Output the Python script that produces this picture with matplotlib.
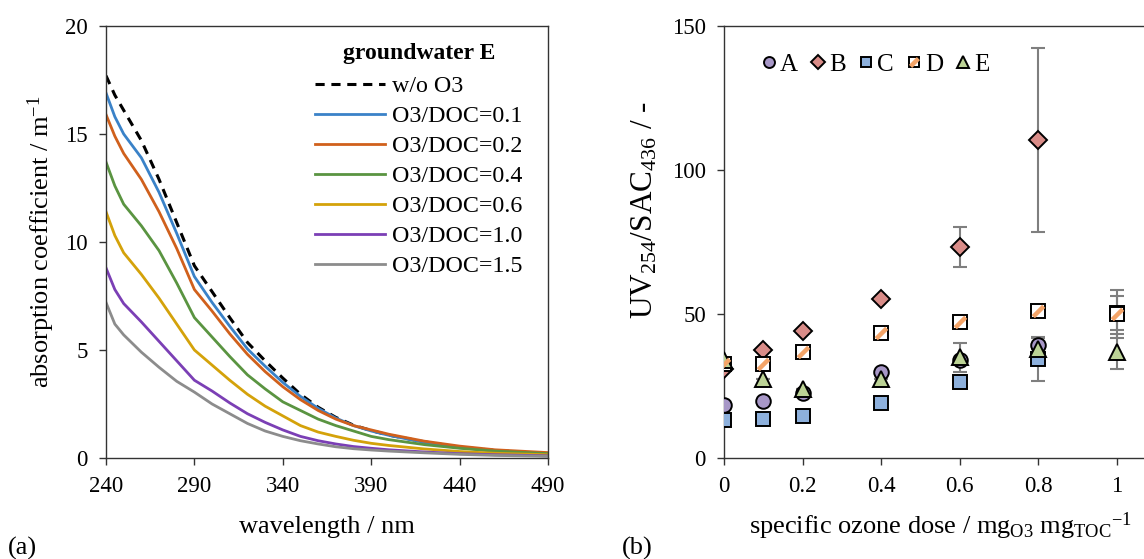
import numpy as np
import matplotlib
matplotlib.use("Agg")
import matplotlib.pyplot as plt
from matplotlib.path import Path
from matplotlib.markers import MarkerStyle
from matplotlib.legend_handler import HandlerTuple

plt.rcParams['font.family'] = ['Liberation Serif', 'DejaVu Serif']
plt.rcParams['mathtext.fontset'] = 'custom'
plt.rcParams['mathtext.rm'] = 'Liberation Serif'
plt.rcParams['mathtext.it'] = 'Liberation Serif:italic'
plt.rcParams['mathtext.bf'] = 'Liberation Serif:bold'

# ---------------- panel (a) data ----------------
wavelength = [240, 245, 250, 260, 270, 280, 290, 300, 310, 320, 330, 340, 350,
              360, 370, 380, 390, 400, 420, 440, 460, 490]
wo_o3 = [17.7, 16.8, 16.1, 14.7, 12.9, 10.9, 8.9, 7.7, 6.5, 5.35, 4.5, 3.7, 2.95,
         2.35, 1.88, 1.52, 1.27, 1.06, 0.75, 0.5, 0.35, 0.2]
doc_01 = [16.9, 15.8, 15.0, 13.9, 12.3, 10.4, 8.4, 7.2, 6.1, 5.05, 4.25, 3.5, 2.85,
          2.3, 1.85, 1.5, 1.25, 1.05, 0.72, 0.48, 0.33, 0.2]
doc_02 = [15.9, 14.9, 14.1, 12.9, 11.4, 9.7, 7.8, 6.8, 5.75, 4.8, 4.0, 3.3, 2.7,
          2.2, 1.8, 1.5, 1.3, 1.1, 0.78, 0.55, 0.38, 0.25]
doc_04 = [13.7, 12.6, 11.75, 10.75, 9.6, 8.1, 6.5, 5.6, 4.7, 3.85, 3.2, 2.6, 2.2,
          1.8, 1.5, 1.25, 1.0, 0.85, 0.62, 0.45, 0.32, 0.2]
doc_06 = [11.4, 10.3, 9.5, 8.5, 7.4, 6.2, 5.0, 4.3, 3.6, 2.95, 2.4, 1.95, 1.5,
          1.2, 1.0, 0.82, 0.68, 0.58, 0.42, 0.3, 0.22, 0.15]
doc_10 = [8.8, 7.8, 7.15, 6.3, 5.4, 4.5, 3.6, 3.1, 2.55, 2.05, 1.65, 1.3, 1.0,
          0.8, 0.65, 0.53, 0.45, 0.38, 0.28, 0.2, 0.15, 0.1]
doc_15 = [7.2, 6.2, 5.7, 4.9, 4.2, 3.55, 3.05, 2.5, 2.05, 1.6, 1.25, 1.0, 0.8,
          0.65, 0.52, 0.43, 0.37, 0.32, 0.24, 0.17, 0.12, 0.08]
spec_labels = ['O3/DOC=0.1', 'O3/DOC=0.2', 'O3/DOC=0.4', 'O3/DOC=0.6',
               'O3/DOC=1.0', 'O3/DOC=1.5']
spec_colors = ['#3a82c8', '#d0601c', '#5a9441', '#d4a20a', '#7b3fb5', '#8c8c8c']

# ---------------- panel (b) data ----------------
dose = [0, 0.1, 0.2, 0.4, 0.6, 0.8, 1.0]
ratio_A = [18.3, 19.8, 22.5, 29.8, 34.0, 39.2, np.nan]
ratio_B = [31.0, 37.5, 44.1, 55.3, 73.2, 110.4, np.nan]
ratio_C = [13.2, 13.4, 14.7, 19.0, 26.3, 34.4, 50.3]
ratio_D = [32.5, 32.5, 36.9, 43.4, 47.3, 51.1, 49.9]
ratio_E = [34.0, 27.3, 23.9, 27.3, 35.0, 37.7, 36.9]
err_A = [0, 0, 0, 0, 0, 2.5, 0]
err_B = [0, 0, 0, 0, 7.0, 31.8, 0]
err_C = [0, 0, 0, 0, 0, 7.7, 5.8]
err_D = [0, 0, 0, 0, 0, 0, 8.3]
err_E = [0, 0, 0, 0, 5.0, 0, 6.0]

W, H = 1144, 559
fig = plt.figure(figsize=(W / 100, H / 100), dpi=100)

spine_c = '#333333'

# ---------------- panel (a) ----------------
axa = fig.add_axes([106 / W, 1 - 458 / H, 442 / W, 432 / H])
axa.plot(wavelength, wo_o3, color='black', lw=2.2, ls=(0, (3, 2.2)), label='w/o O3')
for vals, lab, col in zip([doc_01, doc_02, doc_04, doc_06, doc_10, doc_15],
                          spec_labels, spec_colors):
    axa.plot(wavelength, vals, color=col, lw=2.0, label=lab)
axa.set_xlim(240, 490)
axa.set_ylim(0, 20)
axa.set_xticks([240, 290, 340, 390, 440, 490])
axa.set_yticks([0, 5, 10, 15, 20])
axa.tick_params(direction='out', length=5, width=1, color=spine_c,
                labelsize=16.5, pad=8)
for s in axa.spines.values():
    s.set_color(spine_c)
    s.set_linewidth(1.0)
axa.set_xlabel('wavelength / nm', fontsize=19, labelpad=14)
axa.set_ylabel('absorption coefficient / m$^{\\mathrm{-1}}$', fontsize=19, labelpad=6)
leg = axa.legend(loc='upper left', bbox_to_anchor=(0.452, 0.982), frameon=False,
                 fontsize=17.3, title='groundwater E',
                 title_fontproperties={'weight': 'bold', 'size': 17},
                 handlelength=2.9, handletextpad=0.3, labelspacing=0.34,
                 borderaxespad=0)
leg._legend_box.sep = 8

# ---------------- panel (b) ----------------
x0 = 724
px_per_unit = 393
xmax = 1.1
axb = fig.add_axes([x0 / W, 1 - 458 / H, xmax * px_per_unit / W, 432 / H])
err_c = '#7f7f7f'


def draw(y, e, marker, face, msize, label):
    axb.errorbar(dose, y, yerr=e, fmt='none', ecolor=err_c, elinewidth=1.5,
                 capsize=5, capthick=1.5, zorder=2)
    h, = axb.plot(dose, y, ls='none', marker=marker, markersize=msize,
                  markerfacecolor=face, markeredgecolor='black',
                  markeredgewidth=1.4, zorder=3, label=label)
    return h


hA = draw(ratio_A, err_A, 'o', '#a797c7', 10.5, 'A')
hB = draw(ratio_B, err_B, 'D', '#d98c88', 9.5, 'B')
hC = draw(ratio_C, err_C, 's', '#8db0dc', 10.5, 'C')
hD = draw(ratio_D, err_D, 's', 'white', 10.5, 'D')
stripe = MarkerStyle(Path([(-0.5, -0.5), (0.5, 0.5)], [Path.MOVETO, Path.LINETO]),
                     capstyle='butt')
hD2, = axb.plot(dose, ratio_D, ls='none', marker=stripe, markersize=7.5,
                markeredgecolor='#f4a468', markeredgewidth=3.2, zorder=4)
hE = draw(ratio_E, err_E, '^', '#bcd396', 11.5, 'E')

axb.set_xlim(0, xmax)
axb.set_ylim(0, 150)
axb.set_xticks([0, 0.2, 0.4, 0.6, 0.8, 1.0])
axb.set_xticklabels(['0', '0.2', '0.4', '0.6', '0.8', '1'])
axb.set_yticks([0, 50, 100, 150])
axb.tick_params(direction='out', length=5, width=1, color=spine_c,
                labelsize=16.5, pad=8)
for s in axb.spines.values():
    s.set_color(spine_c)
    s.set_linewidth(1.0)
axb.set_xlabel('specific ozone dose / mg$_{\\mathrm{O3}}$ mg$_{\\mathrm{TOC}}$$^{\\mathrm{-1}}$',
               fontsize=19, labelpad=10)
axb.set_ylabel('UV$_{\\mathrm{254}}$/SAC$_{\\mathrm{436}}$ / -', fontsize=22.5)
axb.yaxis.set_label_coords(-0.15, 0.574)

axb.legend([hA, hB, hC, (hD, hD2), hE], ['A', 'B', 'C', 'D', 'E'],
           handler_map={tuple: HandlerTuple(ndivide=1, pad=0)},
           loc='upper left', bbox_to_anchor=(0.06, 0.96), ncol=5, frameon=False,
           fontsize=18, markerscale=0.75, handlelength=0.7, handletextpad=0.1,
           columnspacing=0.45, borderaxespad=0)

fig.text(8 / W, 1 - 548 / H, '(a)', fontsize=19, va='center', ha='left')
fig.text(622 / W, 1 - 548 / H, '(b)', fontsize=19, va='center', ha='left')

fig.savefig('out.png', dpi=100)
